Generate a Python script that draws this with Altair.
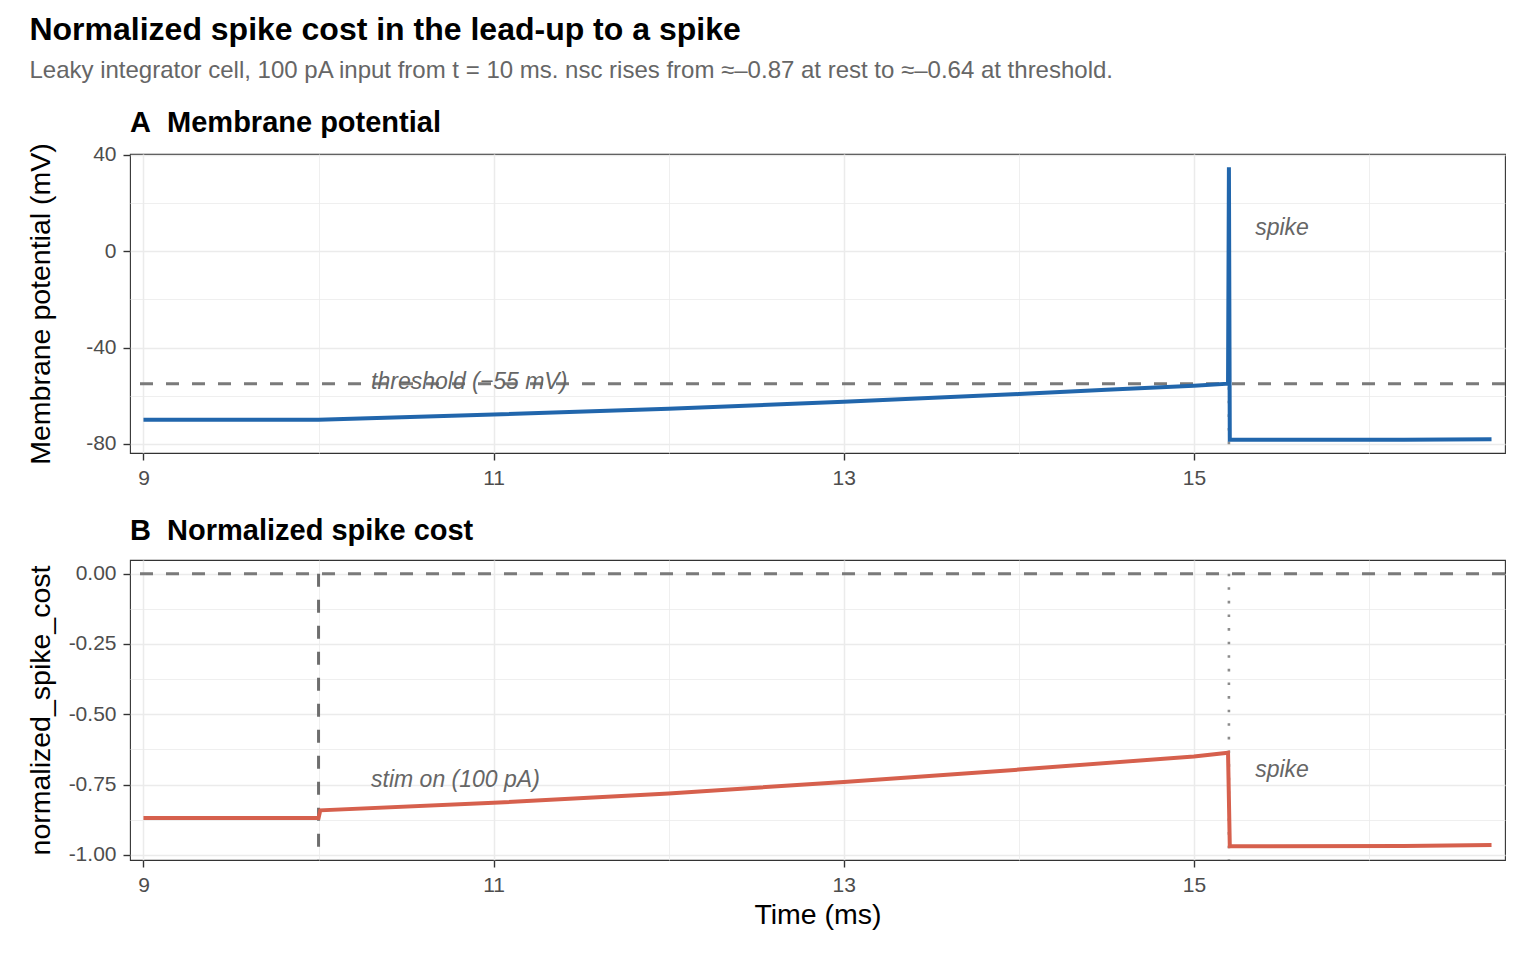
import altair as alt
import pandas as pd

# ---------------- data ----------------
t_v = [9.0, 10.0, 11.0, 12.0, 13.0, 14.0, 14.5, 15.0, 15.195, 15.2, 15.205, 16.2, 16.7]
v_mv = [-70.0, -70.0, -67.8, -65.4, -62.5, -59.3, -57.5, -55.8, -55.0, 34.8, -78.3, -78.3, -78.0]

t_nsc = [9.0, 10.0, 10.01, 11.0, 12.0, 13.0, 14.0, 15.0, 15.195, 15.205, 16.2, 16.7]
nsc = [-0.869, -0.869, -0.842, -0.815, -0.782, -0.741, -0.697, -0.650, -0.637, -0.970, -0.969, -0.965]

threshold_mv = [-55.0]
zero_line = [0.0]
stim_t = [10.0]
spike_t = [15.2]

ann_top_t = [10.3, 15.35]
ann_top_y = [-54.4, 9.5]
ann_top_text = ["threshold (\u221255 mV)", "spike"]

ann_bot_t = [10.3, 15.35]
ann_bot_y = [-0.735, -0.70]
ann_bot_text = ["stim on (100 pA)", "spike"]

x_major = [9, 11, 13, 15]
x_minor = [10, 12, 14, 16]
v_major = [-80, -40, 0, 40]
v_minor = [-60, -20, 20]
n_major = [-1.0, -0.75, -0.5, -0.25, 0.0]
n_minor = [-0.875, -0.625, -0.375, -0.125]

X_DOMAIN = [8.923, 16.777]
V_DOMAIN = [-83.75, 40.3]
N_DOMAIN = [-1.0185, 0.0485]

BLUE = "#2166AC"
RED = "#D6604D"
FONT = "Liberation Sans"

# ---------------- tables ----------------
df_v = pd.DataFrame({"t": t_v, "v": v_mv, "i": range(len(t_v))})
df_n = pd.DataFrame({"t": t_nsc, "v": nsc, "i": range(len(t_nsc))})
df_thr = pd.DataFrame({"v": threshold_mv})
df_zero = pd.DataFrame({"v": zero_line})
df_spike_top = pd.DataFrame({"t": spike_t, "v": [0.0], "v2": [V_DOMAIN[0]]})
df_spike_bot = pd.DataFrame({"t": spike_t, "v": [0.0], "v2": [N_DOMAIN[0]]})
df_stim = pd.DataFrame({"t": stim_t, "v": [0.0], "v2": [N_DOMAIN[0]]})
df_ann_top = pd.DataFrame({"t": ann_top_t, "v": ann_top_y, "label": ann_top_text})
df_ann_bot = pd.DataFrame({"t": ann_bot_t, "v": ann_bot_y, "label": ann_bot_text})

MAJOR_W = 1.5
MINOR_W = 0.8


def x_enc(title=None):
    major_test = "indexof([9, 11, 13, 15], datum.value) >= 0"
    return alt.X(
        "t:Q",
        scale=alt.Scale(domain=X_DOMAIN, nice=False, zero=False),
        axis=alt.Axis(
            title=title,
            values=sorted(x_major + x_minor),
            labelExpr="indexof([9, 11, 13, 15], datum.value) >= 0 ? datum.label : ''",
            gridWidth={"condition": {"test": major_test, "value": MAJOR_W}, "value": MINOR_W},
            tickOpacity={"condition": {"test": major_test, "value": 1}, "value": 0},
            titlePadding=5,
        ),
    )


def y_enc_top():
    major_test = "datum.value % 40 == 0"
    return alt.Y(
        "v:Q",
        scale=alt.Scale(domain=V_DOMAIN, nice=False, zero=False),
        axis=alt.Axis(
            title="Membrane potential (mV)",
            values=sorted(v_major + v_minor),
            labelExpr="datum.value % 40 == 0 ? ((datum.value < 0 ? '-' : '') + format(abs(datum.value), 'd')) : ''",
            gridWidth={"condition": {"test": major_test, "value": MAJOR_W}, "value": MINOR_W},
            tickOpacity={"condition": {"test": major_test, "value": 1}, "value": 0},
            minExtent=64,
            maxExtent=64,
            titlePadding=11,
        ),
    )


def y_enc_bot():
    major_test = "abs(datum.value * 4 - round(datum.value * 4)) < 0.001"
    return alt.Y(
        "v:Q",
        scale=alt.Scale(domain=N_DOMAIN, nice=False, zero=False),
        axis=alt.Axis(
            title="normalized_spike_cost",
            values=sorted(n_major + n_minor),
            labelExpr="abs(datum.value * 4 - round(datum.value * 4)) < 0.001 ? ((datum.value < -0.0001 ? '-' : '') + format(abs(datum.value), '.2f')) : ''",
            gridWidth={"condition": {"test": major_test, "value": MAJOR_W}, "value": MINOR_W},
            tickOpacity={"condition": {"test": major_test, "value": 1}, "value": 0},
            minExtent=64,
            maxExtent=64,
            titlePadding=11,
        ),
    )


W = 1375
H_TOP = 299
H_BOT = 300

DASH_COLOR = "#7a7a7a"

# ---------------- panel A ----------------
thr = alt.Chart(df_thr).mark_rule(color=DASH_COLOR, strokeWidth=3, strokeDash=[13, 13]).encode(
    y=y_enc_top()
)
spike_top = alt.Chart(df_spike_top).mark_rule(color="#8c8c8c", strokeWidth=2.6, strokeDash=[2.6, 11]).encode(
    x=x_enc(), y=y_enc_top(), y2="v2:Q"
)
line_top = alt.Chart(df_v).mark_line(color=BLUE, strokeWidth=4, strokeJoin="miter").encode(
    x=x_enc(), y=y_enc_top(), order="i:Q"
)
text_top = alt.Chart(df_ann_top).mark_text(
    align="left", baseline="middle", fontStyle="italic", fontSize=23, color="#666666", font=FONT
).encode(x=x_enc(), y=y_enc_top(), text="label:N")

panel_a = alt.layer(thr, spike_top, line_top, text_top).properties(
    width=W,
    height=H_TOP,
    title=alt.TitleParams(
        "A\u00a0 Membrane potential", anchor="start", frame="group", fontSize=29,
        fontWeight="bold", color="black", font=FONT, offset=5,
    ),
)

# ---------------- panel B ----------------
zero = alt.Chart(df_zero).mark_rule(color=DASH_COLOR, strokeWidth=3, strokeDash=[13, 13]).encode(
    y=y_enc_bot()
)
stim = alt.Chart(df_stim).mark_rule(color="#6e6e6e", strokeWidth=3, strokeDash=[13, 13]).encode(
    x=x_enc("Time (ms)"), y=y_enc_bot(), y2="v2:Q"
)
spike_bot = alt.Chart(df_spike_bot).mark_rule(color="#8c8c8c", strokeWidth=2.6, strokeDash=[2.6, 11]).encode(
    x=x_enc("Time (ms)"), y=y_enc_bot(), y2="v2:Q"
)
line_bot = alt.Chart(df_n).mark_line(color=RED, strokeWidth=4, strokeJoin="miter").encode(
    x=x_enc("Time (ms)"), y=y_enc_bot(), order="i:Q"
)
text_bot = alt.Chart(df_ann_bot).mark_text(
    align="left", baseline="middle", fontStyle="italic", fontSize=23, color="#666666", font=FONT
).encode(x=x_enc("Time (ms)"), y=y_enc_bot(), text="label:N")

panel_b = alt.layer(zero, stim, spike_bot, line_bot, text_bot).properties(
    width=W,
    height=H_BOT,
    title=alt.TitleParams(
        "B\u00a0 Normalized spike cost", anchor="start", frame="group", fontSize=29,
        fontWeight="bold", color="black", font=FONT, offset=14,
    ),
)

chart = (
    alt.vconcat(panel_a, panel_b, spacing=27)
    .properties(
        title=alt.TitleParams(
            "Normalized spike cost in the lead-up to a spike",
            subtitle="Leaky integrator cell, 100 pA input from t = 10 ms. nsc rises from \u2248\u20130.87 at rest to \u2248\u20130.64 at threshold.",
            anchor="start",
            frame="bounds",
            fontSize=32,
            fontWeight="bold",
            color="black",
            font=FONT,
            subtitleFont=FONT,
            subtitleFontSize=24,
            subtitleColor="#666666",
            subtitlePadding=12,
            offset=24,
            dx=4,
        ),
        padding={"left": 17, "top": 6, "right": 10, "bottom": 10},
        background="white",
    )
    .configure_view(stroke="#333333", strokeWidth=1.1)
    .configure_axis(
        domain=False,
        tickColor="#333333",
        tickSize=7,
        tickWidth=1.4,
        labelPadding=7,
        labelColor="#4d4d4d",
        labelFontSize=21,
        labelFont=FONT,
        titleFont=FONT,
        titleFontSize=28.5,
        titleFontWeight="normal",
        titleColor="black",
        gridColor="#ebebeb",
    )
)

chart.save("out.html", embed_options={"renderer": "svg", "actions": False})
